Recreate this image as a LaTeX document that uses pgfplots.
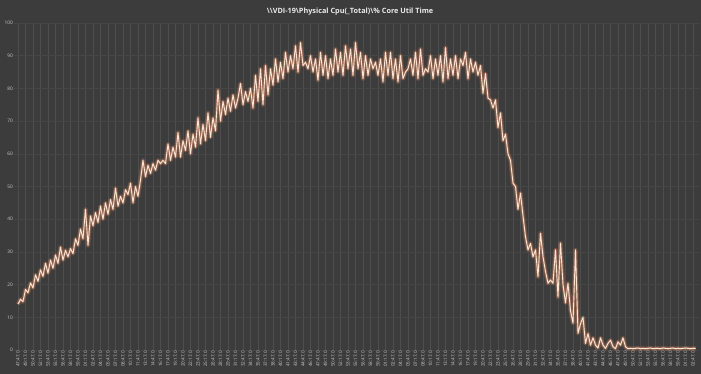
\documentclass[border=0pt]{standalone}
\usepackage{pgfplots}
\pgfplotsset{compat=1.18}
\usepackage{fontspec}
\setmainfont{Open Sans}
\definecolor{bg}{RGB}{60,60,60}
\definecolor{gridc}{RGB}{78,78,78}
\definecolor{hgridc}{RGB}{70,70,70}
\definecolor{labc}{RGB}{200,200,200}
\definecolor{glow}{RGB}{215,135,95}
\definecolor{linec}{RGB}{252,228,214}
\begin{document}
\begin{tikzpicture}
\path[use as bounding box, fill=bg] (0,0) rectangle (701bp,374bp);
\node[text=white!92!black, font=\fontsize{7.3}{9}\selectfont\bfseries] at (350bp,362bp) {\textbackslash\textbackslash VDI-19\textbackslash Physical Cpu(\_Total)\textbackslash\% Core Util Time};
\begin{axis}[
  at={(14bp,24bp)}, anchor=south west,
  width=685bp, height=327bp, scale only axis,
  xmin=-1.6, xmax=272.4, ymin=0, ymax=100,
  axis line style={draw=none},
  tick style={draw=none},
  ytick={0,10,...,100},
  xtick={0,3,...,270},
  xticklabels={47:47.0,49:17.0,50:47.0,52:17.0,53:47.0,55:17.0,56:47.0,58:17.0,59:47.0,01:17.0,02:47.0,04:17.0,05:47.0,07:17.0,08:47.0,10:17.0,11:47.0,13:17.0,14:47.0,16:17.0,17:47.0,19:17.0,20:47.0,22:17.0,23:47.0,25:17.0,26:47.0,28:17.0,29:47.0,31:17.0,32:47.0,34:17.0,35:47.0,37:17.0,38:47.0,40:17.0,41:47.0,43:17.0,44:47.0,46:17.0,47:47.0,49:17.0,50:47.0,52:17.0,53:47.0,55:17.0,56:47.0,58:17.0,59:47.0,01:17.0,02:47.0,04:17.0,05:47.0,07:17.0,08:47.0,10:17.0,11:47.0,13:17.0,14:47.0,16:17.0,17:47.0,19:17.0,20:47.0,22:17.0,23:47.0,25:17.0,26:47.0,28:17.0,29:47.0,31:17.0,32:47.0,34:17.0,35:47.0,37:17.0,38:47.0,40:17.0,41:47.0,43:17.0,44:47.0,46:17.0,47:47.0,49:17.0,50:47.0,52:17.0,53:47.0,55:17.0,56:47.0,58:17.0,59:47.0,01:17.0,02:47.0},
  xticklabel style={rotate=90, anchor=east, font=\fontsize{4.6}{5}\selectfont, text=labc, inner sep=1bp},
  yticklabel style={font=\fontsize{4.8}{5}\selectfont, text=labc, inner sep=1bp},
  /pgf/number format/assume math mode=true,
  xmajorgrids, ymajorgrids,
  x grid style={gridc, line width=0.5bp},
  y grid style={hgridc, line width=0.4bp},
  clip=false,
]
\pgfplotstableread{
i v
0 14
1 15.5
2 14.8
3 18.5
4 17.5
5 20.5
6 19
7 23
8 21
9 24.5
10 22.5
11 26.5
12 23.5
13 27.5
14 25
15 29
16 26.5
17 31.5
18 27.5
19 30.5
20 28.5
21 31
22 29.5
23 34
24 32
25 37
26 34
27 43
28 32
29 41
30 38
31 42
32 39
33 44
34 40
35 45
36 41.5
37 46
38 43
39 49.5
40 44
41 47
42 45
43 49
44 47.5
45 51
46 45
47 50
48 47
49 52
50 58
51 53
52 56.5
53 54
54 57
55 55
56 58
57 57
58 58
59 57
60 63
61 58
62 62
63 59
64 66.5
65 59
66 64
67 61
68 67
69 60
70 66
71 62
72 71
73 63
74 69
75 64
76 72.5
77 65
78 71
79 67
80 79.5
81 70
82 76
83 72
84 77
85 73
86 78
87 74
88 77
89 81.5
90 75
91 79
92 76
93 80
94 74
95 84
96 76
97 86
98 75
99 87
100 78
101 86
102 81
103 89
104 82
105 88
106 83
107 91
108 85
109 90
110 86
111 93
112 85
113 94
114 87
115 88
116 86
117 90
118 85
119 89
120 82.5
121 91
122 84
123 90
124 83
125 89
126 84
127 92
128 85
129 91
130 84
131 93
132 86
133 92
134 84
135 94
136 86
137 91
138 83
139 90
140 84
141 89
142 86
143 88
144 84
145 89
146 82
147 91
148 84
149 91
150 83
151 89
152 82
153 90
154 83
155 85
156 86
157 89
158 84
159 91
160 83
161 92
162 84
163 86
164 85
165 90
166 83
167 89
168 84
169 90
170 82
171 92.5
172 83
173 89
174 84
175 90
176 83
177 89
178 87
179 91
180 83
181 89
182 85
183 88
184 84
185 87
186 78.5
187 84.5
188 77
189 76.5
190 74
191 76.5
192 68
193 72.5
194 64
195 66
196 60
197 58
198 51
199 50
200 43
201 48
202 41
203 34.6
204 30.6
205 32.6
206 28.5
207 30.6
208 22.4
209 35.7
210 28.5
211 24
212 20.4
213 21.4
214 20.4
215 30.6
216 16.2
217 32.7
218 20
219 14.4
220 20.4
221 12
222 8.2
223 30.6
224 5.1
225 8
226 10
227 2
228 5
229 1.5
230 3.7
231 1.5
232 0.6
233 3.7
234 1.5
235 0.5
236 2
237 3
238 1
239 0.4
240 2.5
241 1.5
242 3.7
243 1
244 0.4
245 0.5
246 0.4
247 0.5
248 0.6
249 0.4
250 0.5
251 0.4
252 0.5
253 0.6
254 0.4
255 0.5
256 0.5
257 0.4
258 0.6
259 0.5
260 0.4
261 0.5
262 0.6
263 0.4
264 0.5
265 0.4
266 0.5
267 0.6
268 0.5
269 0.4
270 0.5
271 0.5
}\cpu
\addplot[glow, opacity=0.25, line width=4.5bp, line join=round] table[x=i,y=v]{\cpu};
\addplot[glow, opacity=0.45, line width=2.4bp, line join=round] table[x=i,y=v]{\cpu};
\addplot[linec, line width=0.9bp, line join=round] table[x=i,y=v]{\cpu};
\end{axis}
\end{tikzpicture}
\end{document}
